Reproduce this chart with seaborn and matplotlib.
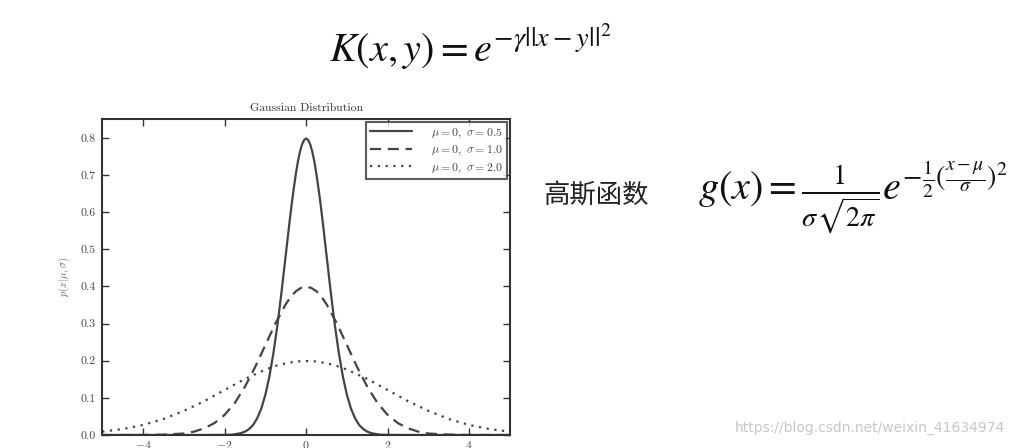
import numpy as np
import pandas as pd
import seaborn as sns
import matplotlib.pyplot as plt

# values (right half, curves are symmetric about x = 0)
x_s05 = [0.0, 0.05, 0.1, 0.15, 0.2, 0.25, 0.3, 0.35, 0.4, 0.5, 0.6, 0.7, 0.8, 0.9, 1.0,
         1.1, 1.2, 1.3, 1.4, 1.5, 1.6, 1.8, 2.0, 2.5, 5.0]
y_s05 = [0.798, 0.794, 0.782, 0.763, 0.737, 0.704, 0.666, 0.625, 0.580, 0.484, 0.388,
         0.299, 0.222, 0.158, 0.108, 0.071, 0.045, 0.027, 0.016, 0.009, 0.005, 0.001,
         0.0003, 0.0, 0.0]
x_s10 = [0.0, 0.125, 0.25, 0.375, 0.5, 0.75, 1.0, 1.25, 1.5, 1.75, 2.0, 2.25, 2.5,
         2.75, 3.0, 3.5, 4.0, 5.0]
y_s10 = [0.399, 0.396, 0.387, 0.372, 0.352, 0.301, 0.242, 0.183, 0.130, 0.086, 0.054,
         0.032, 0.018, 0.009, 0.004, 0.001, 0.0001, 0.0]
x_s20 = [0.0, 0.25, 0.5, 0.75, 1.0, 1.5, 2.0, 2.5, 3.0, 3.5, 4.0, 4.5, 5.0]
y_s20 = [0.199, 0.198, 0.193, 0.186, 0.176, 0.151, 0.121, 0.091, 0.065, 0.043, 0.027,
         0.016, 0.009]

labels = [r"$\mu=0,\ \sigma=0.5$", r"$\mu=0,\ \sigma=1.0$", r"$\mu=0,\ \sigma=2.0$"]
styles = ["-", (0, (5, 3)), (0, (1, 2.5))]
x_ticks = [-4, -2, 0, 2, 4]
y_ticks = [0.0, 0.1, 0.2, 0.3, 0.4, 0.5, 0.6, 0.7, 0.8]


def mirror(xs, ys):
    xs = np.asarray(xs)
    ys = np.asarray(ys)
    return np.concatenate([-xs[:0:-1], xs]), np.concatenate([ys[:0:-1], ys])


sns.set_theme(style="ticks")
plt.rcParams["font.family"] = ["cmr10", "DejaVu Serif"]
plt.rcParams["mathtext.fontset"] = "cm"
plt.rcParams["axes.formatter.use_mathtext"] = True

fig = plt.figure(figsize=(10.12, 4.48), dpi=100)
ax = fig.add_axes([0.101, 0.029, 0.403, 0.705])

grey = "#444444"
for (xs, ys), lab, ls in zip([mirror(x_s05, y_s05), mirror(x_s10, y_s10), mirror(x_s20, y_s20)],
                             labels, styles):
    sns.lineplot(x=xs, y=ys, ax=ax, color=grey, linestyle=ls, linewidth=1.6, label=lab)

ax.set_xlim(-5, 5)
ax.set_ylim(0, 0.85)
ax.set_xticks(x_ticks)
ax.set_yticks(y_ticks)
ax.set_yticklabels([f"{v:.1f}" for v in y_ticks])
ax.tick_params(direction="in", top=True, right=True, length=5, width=1,
               labelsize=8.5, colors="#333333", labelcolor="#444444", pad=5)
ax.tick_params(axis="x", pad=3)
for sp in ax.spines.values():
    sp.set_linewidth(1.5)
    sp.set_color("#333333")
ax.set_ylabel(r"$p(x|\mu,\sigma)$", fontsize=7.5, color="#666666", labelpad=6)
ax.set_title("Gaussian Distribution", fontsize=8.5, color="#333333", pad=6)

leg = ax.legend(loc="upper right", fontsize=8.5, frameon=True, fancybox=False,
                handlelength=3.6, handletextpad=1.6, borderpad=0.35, labelspacing=0.35,
                borderaxespad=0.25)
leg.get_frame().set_edgecolor("#333333")
leg.get_frame().set_linewidth(1.5)
for t in leg.get_texts():
    t.set_color("#444444")

fig.text(0.465, 0.895, r"$K(x,y)=e^{-\gamma||x-y||^2}$", fontsize=29,
         ha="center", va="center", math_fontfamily="stix", color="#111111")
fig.text(0.537, 0.562, "高斯函数", fontsize=19, ha="left", va="center",
         family=["Noto Sans CJK SC", "DejaVu Sans"], color="#222222")
fig.text(0.69, 0.56, r"$g(x)=\frac{1}{\sigma\sqrt{2\pi}}e^{-\frac{1}{2}(\frac{x-\mu}{\sigma})^2}$",
         fontsize=29, ha="left", va="center", math_fontfamily="stix", color="#111111")
fig.text(0.993, 0.045, "https://blog.csdn.net/weixin_41634974", fontsize=10,
         ha="right", va="center", family=["DejaVu Sans"], color="#c8c8c8")

fig.savefig("out.png", dpi=100, facecolor="white")
